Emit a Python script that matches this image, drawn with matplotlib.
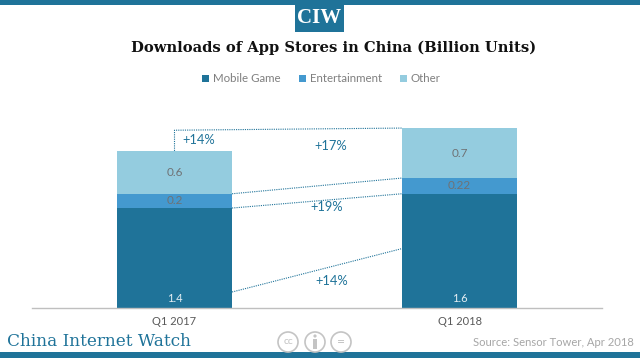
import numpy as np
import matplotlib
matplotlib.use("Agg")
import matplotlib.pyplot as plt
from matplotlib.patches import Rectangle, Circle

quarters = ["Q1 2017", "Q1 2018"]
mobile_game = [1.4, 1.6]
entertainment = [0.2, 0.22]
other = [0.6, 0.7]
mobile_labels = ["1.4", "1.6"]
ent_labels = ["0.2", "0.22"]
other_labels = ["0.6", "0.7"]

W, H = 640, 358
DARK = "#1f7399"
MID = "#4499cf"
LIGHT = "#94ccdf"
GRAY = "#7f7f7f"
SANS = "Lato"

plt.rcParams["font.family"] = SANS
fig = plt.figure(figsize=(W / 100, H / 100), dpi=100)

# overlay in pixel coords for the page furniture
bg = fig.add_axes([0, 0, 1, 1])
bg.set_xlim(0, W)
bg.set_ylim(H, 0)
bg.axis("off")
bg.add_patch(Rectangle((0, 0), W, 4.5, color=DARK, lw=0))
bg.add_patch(Rectangle((295, 0), 49, 32, color=DARK, lw=0))
bg.add_patch(Rectangle((0, 352), W, 6, color=DARK, lw=0))
bg.text(319.5, 18, "CIW", color="white", fontsize=15, family="Liberation Serif", weight="bold",
        ha="center", va="center")
bg.text(333.5, 48, "Downloads of App Stores in China (Billion Units)", color="#111111",
        fontsize=10.6, family="DejaVu Serif", weight="bold", ha="center", va="center")
bg.text(7, 342, "China Internet Watch", color=DARK, fontsize=12.2,
        family="DejaVu Serif", ha="left", va="center")
bg.text(634, 343, "Source: Sensor Tower, Apr 2018", color="#a6a6a6", fontsize=8.1,
        ha="right", va="center")

# cc icons
for cx in [288, 315, 341]:
    bg.add_patch(Circle((cx, 342), 10, fill=False, ec="#c4c4c4", lw=1.2))
bg.text(288, 342, "cc", color="#c4c4c4", fontsize=7.5, ha="center", va="center")
bg.add_patch(Circle((315, 336), 1.6, color="#c4c4c4", lw=0))
bg.add_patch(Rectangle((313, 339), 4, 10, color="#c4c4c4", lw=0))
bg.text(341, 342, "=", color="#c4c4c4", fontsize=10, ha="center", va="center")

# chart axes: x 32..602 px, y 308..100 px
ax = fig.add_axes([32 / W, (H - 308) / H, 570 / W, 208 / H])
ax.patch.set_alpha(0)
x = np.arange(len(quarters))
bar_w = 0.404
mobile_game = np.array(mobile_game)
entertainment = np.array(entertainment)
other = np.array(other)
b1 = ax.bar(x, mobile_game, bar_w, color=DARK, label="Mobile Game")
b2 = ax.bar(x, entertainment, bar_w, bottom=mobile_game, color=MID, label="Entertainment")
b3 = ax.bar(x, other, bar_w, bottom=mobile_game + entertainment, color=LIGHT, label="Other")
ax.set_xlim(-0.5, 1.5)
ax.set_ylim(0, 208 / 71.4)
ax.set_yticks([])
ax.set_xticks(x, quarters)
ax.tick_params(axis="x", length=0, pad=6, labelsize=8, labelcolor="#595959")
for s in ["top", "left", "right"]:
    ax.spines[s].set_visible(False)
ax.spines["bottom"].set_color("#bfbfbf")
ax.spines["bottom"].set_linewidth(1)

# value labels
for i in x:
    ax.text(i, 0.14, mobile_labels[i], color="#e4eef3", fontsize=8,
            ha="center", va="center")
    ax.text(i, mobile_game[i] + entertainment[i] / 2, ent_labels[i], color="#6f7275", fontsize=8.5,
            ha="center", va="center")
    ax.text(i, mobile_game[i] + entertainment[i] + other[i] / 2, other_labels[i], color="#6f7275",
            fontsize=8.5, ha="center", va="center")

# dotted connectors between the bars
total = mobile_game + entertainment + other
xl, xr = bar_w / 2, 1 - bar_w / 2
conn = dict(color=DARK, lw=0.8, ls=(0, (1, 1)))
ax.plot([xl, xr], [mobile_game[0] * 0.16, mobile_game[1] * 0.52], **conn)
ax.plot([xl, xr], [mobile_game[0], mobile_game[1]], **conn)
ax.plot([xl, xr], [mobile_game[0] + entertainment[0], mobile_game[1] + entertainment[1]], **conn)
ax.plot([0, 0, xr], [total[0], total[1] - 0.03, total[1]], **conn)

# growth labels
for px, py, s in [(199, 140, "+14%"), (331, 146, "+17%"), (327, 207, "+19%"), (332, 281, "+14%")]:
    bg.text(px, py, s, color=DARK, fontsize=9.3, ha="center", va="center", zorder=5)

fig.legend(handles=[b1, b2, b3], loc="center", bbox_to_anchor=(321.5 / W, 1 - 79 / H), ncol=3,
           frameon=False, fontsize=8.3, labelcolor="#7f7f7f", handlelength=0.6, handleheight=0.6,
           handletextpad=0.35, columnspacing=1.55)

fig.savefig("out.png", dpi=100)
